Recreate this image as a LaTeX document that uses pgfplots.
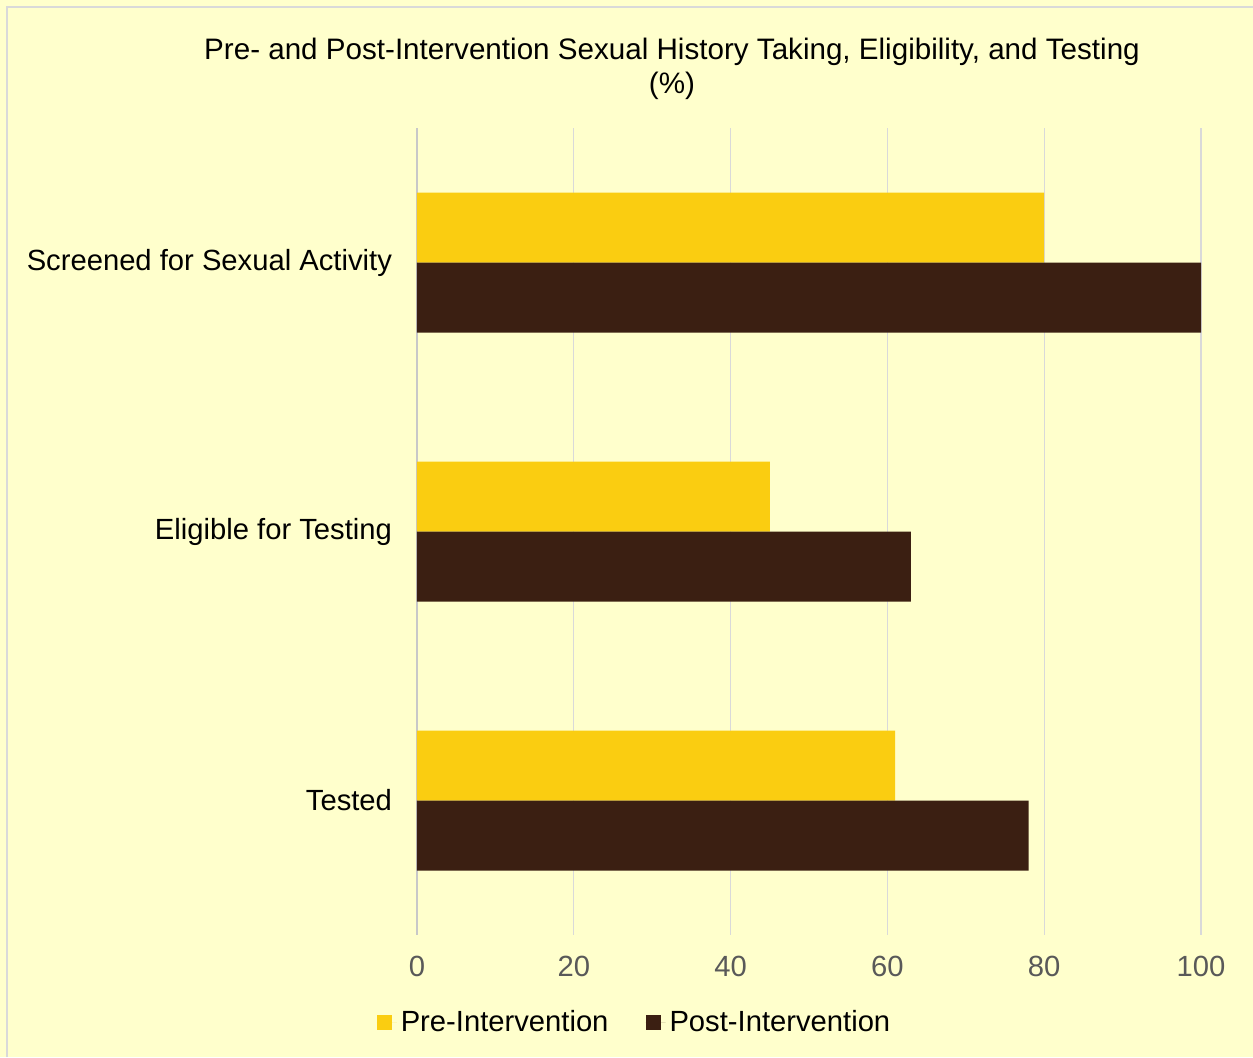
\documentclass[border=0pt]{standalone}
\usepackage{pgfplots}
\pgfplotsset{compat=1.18}
\usepackage{fontspec}
\setmainfont{Liberation Sans}
\definecolor{bgc}{HTML}{FFFFCC}
\definecolor{prec}{HTML}{FACD11}
\definecolor{postc}{HTML}{3B1F12}
\definecolor{gridc}{HTML}{D9D9D9}
\definecolor{tickc}{HTML}{595959}
\begin{document}
\begin{tikzpicture}
\useasboundingbox (0,0) rectangle (626.5pt,-528.5pt);
\fill[bgc] (0,0) rectangle (626.5pt,-528.5pt);
\draw[gridc,line width=1pt] (3.5pt,-528.5pt) -- (3.5pt,-3.5pt) -- (626.5pt,-3.5pt);
\node[font=\fontsize{14.8}{17}\selectfont,align=center,anchor=center] at (336pt,-34.5pt) {Pre- and Post-Intervention Sexual History Taking, Eligibility, and Testing\\(\%)};
\begin{axis}[
  at={(208.5pt,-467.5pt)}, anchor=south west,
  scale only axis, width=392pt, height=403.5pt,
  xbar, bar width=35pt,
  xmin=0, xmax=100, ymin=-0.5, ymax=2.5,
  y dir=reverse,
  xtick={0,20,40,60,80,100},
  ytick={0,1,2},
  yticklabels={Screened for Sexual Activity,Eligible for Testing,Tested},
  major tick length=0pt,
  axis line style={draw=none},
  xmajorgrids, grid style={gridc,line width=0.6pt},
  extra x ticks={0}, extra x tick labels={},
  extra x tick style={grid style={gridc!92!black,line width=1pt}},
  xticklabel style={font=\fontsize{14.6}{16}\selectfont,text=tickc,yshift=-7pt},
  yticklabel style={font=\fontsize{14.6}{16}\selectfont,text=black,xshift=-9pt},
  /pgf/number format/assume math mode=true,
  legend columns=2,
  legend style={at={(0.2787,-0.108)},anchor=center,draw=none,fill=none,
    font=\fontsize{14.6}{16}\selectfont,
    /tikz/every odd column/.append style={column sep=0pt},
    /tikz/every even column/.append style={column sep=16.5pt}},
  legend image code/.code={\fill[#1] (0pt,-3.75pt) rectangle (7.5pt,3.75pt); \path (0pt,0pt) -- (10pt,0pt);},
]
\addplot[fill=prec,draw=none,bar shift=17.5pt] coordinates {(80,0) (45,1) (61,2)};
\addplot[fill=postc,draw=none,bar shift=-17.5pt] coordinates {(100,0) (63,1) (78,2)};
\legend{Pre-Intervention,Post-Intervention}
\end{axis}
\end{tikzpicture}
\end{document}
